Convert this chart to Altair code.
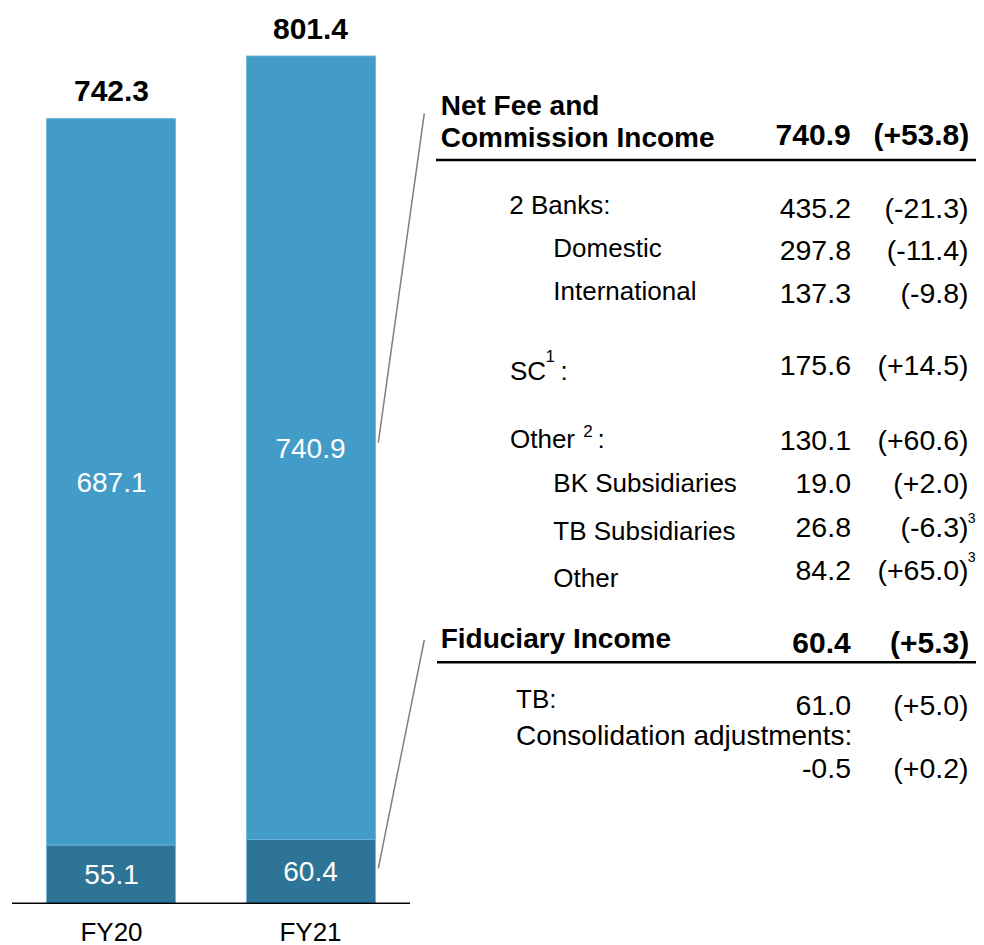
import altair as alt
import pandas as pd

# ---------------- data ----------------
years = ["FY20", "FY21"]
fiduciary = [55.1, 60.4]
nfci = [687.1, 740.9]
totals = [742.3, 801.4]

nfci_title = ["Net Fee and", "Commission Income"]
nfci_total = "740.9"
nfci_total_chg = "(+53.8)"
nfci_labels = ["2 Banks:", "Domestic", "International", "SC", "Other",
               "BK Subsidiaries", "TB Subsidiaries", "Other"]
nfci_values = ["435.2", "297.8", "137.3", "175.6", "130.1", "19.0", "26.8", "84.2"]
nfci_changes = ["(-21.3)", "(-11.4)", "(-9.8)", "(+14.5)", "(+60.6)",
                "(+2.0)", "(-6.3)", "(+65.0)"]
label_notes = ["", "", "", "1", "2", "", "", ""]
change_notes = ["", "", "", "", "", "", "3", "3"]

fid_title = "Fiduciary Income"
fid_total = "60.4"
fid_total_chg = "(+5.3)"
fid_labels = ["TB:", "Consolidation adjustments:"]
fid_values = ["61.0", "-0.5"]
fid_changes = ["(+5.0)", "(+0.2)"]

# ---------------- layout (pixels) ----------------
W, H = 968, 937
OFF = 8
LIGHT = "#439CC8"
DARK = "#2E7497"
EDGE = "#6DB3DA"
FONT = "Liberation Sans"

nfci_label_x = [509.3, 553.3, 553.3, 510, 510, 553.3, 553.3, 553.3]
nfci_label_base = [214, 256.7, 300, 380, 448.3, 491.7, 540, 586.7]
nfci_value_base = [217.7, 260, 303.3, 375, 450, 493.3, 536.7, 580]
label_note_pos = {3: (545.5, 361.7, 560.5), 4: (583.3, 436.7, 597.5)}
change_note_x = 967.8
change_note_base = {6: 523.3, 7: 561.7}
fid_label_x = [516, 516]
fid_label_base = [708.3, 745]
fid_label_size = [26, 28]
fid_value_base = [715, 778.3]
VAL_R = 851
CHG_R = 968.5

# ---------------- bar data ----------------
rows = []
for i, y in enumerate(years):
    rows.append(dict(year=y, seg="Fiduciary Income", start=0, end=fiduciary[i],
                     v=fiduciary[i]))
    rows.append(dict(year=y, seg="Net Fee and Commission Income",
                     start=fiduciary[i], end=fiduciary[i] + nfci[i], v=nfci[i]))
bars = pd.DataFrame(rows)
bars["mid"] = (bars["start"] + bars["end"]) / 2
bars["lbl"] = bars["v"].map(lambda v: f"{v:.1f}")
tot = pd.DataFrame(dict(year=years, total=totals,
                        lbl=[f"{t:.1f}" for t in totals]))

zero_px = 903.3 - OFF
ppu = 1.0575
ydom = [-(H - zero_px) / ppu, zero_px / ppu]

xband = alt.X("year:N", sort=years,
              scale=alt.Scale(range=[4, 402], paddingInner=0.355, paddingOuter=0.1725),
              axis=None)
yscale = alt.Scale(domain=ydom, nice=False, zero=False)

bar_layer = alt.Chart(bars).mark_bar(stroke=EDGE, strokeWidth=0.8).encode(
    x=xband,
    y=alt.Y("start:Q", scale=yscale, axis=None),
    y2="end:Q",
    color=alt.Color("seg:N", scale=alt.Scale(
        domain=["Fiduciary Income", "Net Fee and Commission Income"],
        range=[DARK, LIGHT]), legend=None),
)
seg_labels = alt.Chart(bars).mark_text(
    font=FONT, fontSize=28, color="white", baseline="middle", dy=2
).encode(x=xband, y=alt.Y("mid:Q", scale=yscale, axis=None), text="lbl:N")
tot_labels = alt.Chart(tot).mark_text(
    font=FONT, fontSize=30, fontWeight="bold", color="black",
    baseline="alphabetic", dy=-17
).encode(x=xband, y=alt.Y("total:Q", scale=yscale, axis=None), text="lbl:N")
base_rule = alt.Chart(pd.DataFrame(dict(z=[0]))).mark_rule(
    color="black", strokeWidth=1.5
).encode(x=alt.value(4), x2=alt.value(402),
         y=alt.Y("z:Q", scale=yscale, axis=None))
fy_labels = alt.Chart(pd.DataFrame(dict(year=years))).mark_text(
    font=FONT, fontSize=26, color="black", baseline="alphabetic"
).encode(x=xband, y=alt.value(940.5 - OFF), text="year:N")

# ---------------- table texts ----------------
def px(v):
    return v - OFF

reg_left, reg_right, bold_left, bold_right = [], [], [], []
for j, t in enumerate(nfci_title):
    bold_left.append(dict(t=t, x=px(440.7), y=px([115, 146.7][j]), s=28))
bold_right.append(dict(t=nfci_total, x=px(850.7), y=px(145), s=30))
bold_right.append(dict(t=nfci_total_chg, x=px(969.3), y=px(145), s=30))
for i in range(len(nfci_labels)):
    reg_left.append(dict(t=nfci_labels[i], x=px(nfci_label_x[i]),
                         y=px(nfci_label_base[i]), s=26))
    reg_right.append(dict(t=nfci_values[i], x=px(VAL_R), y=px(nfci_value_base[i]), s=28.5))
    reg_right.append(dict(t=nfci_changes[i], x=px(CHG_R), y=px(nfci_value_base[i]), s=28.5))
    if label_notes[i]:
        nx, nb, cx = label_note_pos[i]
        reg_left.append(dict(t=label_notes[i], x=px(nx), y=px(nb), s=17))
        reg_left.append(dict(t=":", x=px(cx), y=px(nfci_label_base[i]), s=26))
    if change_notes[i]:
        reg_left.append(dict(t=change_notes[i], x=px(change_note_x),
                             y=px(change_note_base[i]), s=14))
bold_left.append(dict(t=fid_title, x=px(440.7), y=px(647.7), s=28))
bold_right.append(dict(t=fid_total, x=px(850.7), y=px(653.3), s=30))
bold_right.append(dict(t=fid_total_chg, x=px(969.3), y=px(653.3), s=30))
for i in range(len(fid_labels)):
    reg_left.append(dict(t=fid_labels[i], x=px(fid_label_x[i]),
                         y=px(fid_label_base[i]), s=fid_label_size[i]))
    reg_right.append(dict(t=fid_values[i], x=px(VAL_R), y=px(fid_value_base[i]), s=28.5))
    reg_right.append(dict(t=fid_changes[i], x=px(CHG_R), y=px(fid_value_base[i]), s=28.5))


def text_layer(recs, align, weight):
    return alt.Chart(pd.DataFrame(recs)).mark_text(
        font=FONT, align=align, baseline="alphabetic", fontWeight=weight, color="black"
    ).encode(
        x=alt.X("x:Q", scale=None, axis=None),
        y=alt.Y("y:Q", scale=None, axis=None),
        size=alt.Size("s:Q", scale=None, legend=None),
        text="t:N",
    )


# ---------------- rules / connectors ----------------
hrules = pd.DataFrame(dict(x=[px(436), px(437)], x2=[px(976), px(976)],
                           y=[px(160), px(662.3)]))
hrule_layer = alt.Chart(hrules).mark_rule(color="black", strokeWidth=2.5).encode(
    x=alt.X("x:Q", scale=None, axis=None), x2="x2:Q",
    y=alt.Y("y:Q", scale=None, axis=None))
conn = pd.DataFrame(dict(x=[px(424.3), px(424.3)], y=[px(113.3), px(640)],
                         x2=[px(378.3), px(378.3)], y2=[px(442.7), px(868.3)]))
conn_layer = alt.Chart(conn).mark_rule(color="#7F7F7F", strokeWidth=1.5).encode(
    x=alt.X("x:Q", scale=None, axis=None), x2="x2:Q",
    y=alt.Y("y:Q", scale=None, axis=None), y2="y2:Q")

chart = alt.layer(
    bar_layer, seg_labels, tot_labels, base_rule, fy_labels,
    hrule_layer, conn_layer,
    text_layer(reg_left, "left", "normal"),
    text_layer(reg_right, "right", "normal"),
    text_layer(bold_left, "left", "bold"),
    text_layer(bold_right, "right", "bold"),
).resolve_scale(x="independent", y="independent", size="independent").properties(
    width=W, height=H, padding=0,
    autosize=alt.AutoSizeParams(type="none"),
    background="white",
).configure_view(stroke=None)

chart.save("out.html", embed_options={"renderer": "svg", "actions": False})
